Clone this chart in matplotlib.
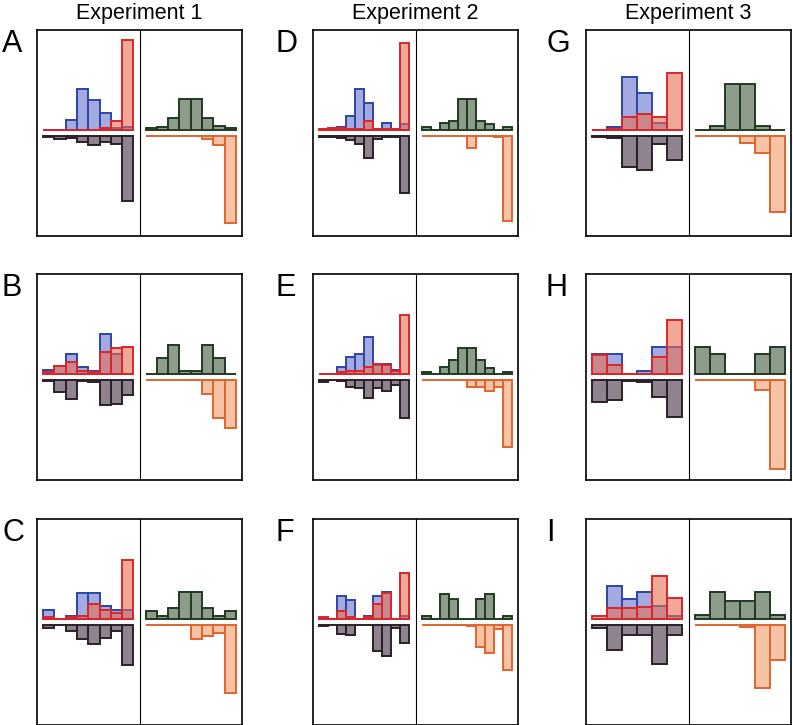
import numpy as np
import matplotlib
matplotlib.use("Agg")
import matplotlib.pyplot as plt
from matplotlib.colors import to_rgba

plt.rcParams['font.family'] = ['Liberation Sans', 'DejaVu Sans']

# panel letters, column by column
columns = ['Experiment 1', 'Experiment 2', 'Experiment 3']
letters = [['A', 'B', 'C'], ['D', 'E', 'F'], ['G', 'H', 'I']]

# left half, upward (blue and red overlap)
blue = {
    'A': [0, 0, 0.10, 0.41, 0.30, 0.17, 0.02, 0.03],
    'B': [0.04, 0.08, 0.20, 0.07, 0.03, 0.40, 0.20, 0.0],
    'C': [0.09, 0, 0.03, 0.26, 0.26, 0.13, 0.09, 0.09],
    'D': [0, 0.01, 0.03, 0.14, 0.41, 0.27, 0.01, 0.07, 0.01, 0.06],
    'E': [0, 0, 0.07, 0.17, 0.20, 0.37, 0.09, 0.10, 0.04, 0.0],
    'F': [0, 0, 0.23, 0.19, 0, 0.03, 0.23, 0.27, 0, 0.03],
    'G': [0, 0.03, 0.53, 0.37, 0.07, 0],
    'H': [0.20, 0.20, 0, 0.03, 0.27, 0.27],
    'I': [0.005, 0.33, 0.20, 0.27, 0.13, 0.03],
}
red = {
    'A': [0, 0, 0, 0, 0, 0.02, 0.09, 0.90],
    'B': [0.02, 0.08, 0.12, 0.03, 0.02, 0.22, 0.26, 0.27],
    'C': [0.02, 0.005, 0.02, 0.03, 0.15, 0.09, 0.06, 0.59],
    'D': [0.01, 0.02, 0.02, 0.01, 0.01, 0.09, 0.01, 0.01, 0.01, 0.87],
    'E': [0, 0, 0.02, 0.03, 0.03, 0.07, 0.10, 0.09, 0.03, 0.59],
    'F': [0.02, 0, 0.08, 0.02, 0, 0.02, 0.15, 0.26, 0, 0.46],
    'G': [0, 0.01, 0.13, 0.16, 0.13, 0.57],
    'H': [0.19, 0.09, 0, 0.005, 0.17, 0.54],
    'I': [0.03, 0.11, 0.11, 0.12, 0.43, 0.21],
}
# left half, downward
gray = {
    'A': [0.01, 0.03, 0.02, 0.06, 0.09, 0.06, 0.08, 0.66],
    'B': [0.01, 0.12, 0.19, 0.01, 0.02, 0.25, 0.24, 0.15],
    'C': [0.03, 0, 0.06, 0.14, 0.19, 0.13, 0.06, 0.40],
    'D': [0.01, 0.01, 0.02, 0.04, 0.08, 0.22, 0.03, 0.01, 0.01, 0.58],
    'E': [0.02, 0.005, 0.01, 0.07, 0.08, 0.18, 0.08, 0.11, 0.05, 0.38],
    'F': [0.01, 0, 0.09, 0.10, 0, 0.005, 0.26, 0.31, 0.03, 0.18],
    'G': [0.01, 0.02, 0.32, 0.35, 0.08, 0.24],
    'H': [0.22, 0.20, 0.01, 0.02, 0.17, 0.37],
    'I': [0.03, 0.25, 0.10, 0.10, 0.39, 0.10],
}
# right half, upward
green = {
    'A': [0.02, 0.03, 0.12, 0.31, 0.31, 0.12, 0.04, 0.02],
    'B': [0.005, 0.16, 0.29, 0.03, 0.03, 0.29, 0.16, 0.005],
    'C': [0.08, 0.03, 0.11, 0.27, 0.27, 0.11, 0.03, 0.08],
    'D': [0.03, 0.005, 0.07, 0.09, 0.31, 0.31, 0.09, 0.06, 0.005, 0.03],
    'E': [0.02, 0.005, 0.07, 0.14, 0.26, 0.26, 0.14, 0.06, 0.005, 0.02],
    'F': [0.03, 0, 0.25, 0.20, 0, 0, 0.20, 0.25, 0, 0.03],
    'G': [0.005, 0.04, 0.46, 0.46, 0.04, 0.005],
    'H': [0.27, 0.20, 0.005, 0.005, 0.20, 0.27],
    'I': [0.04, 0.27, 0.18, 0.18, 0.27, 0.04],
}
# right half, downward
orange = {
    'A': [0, 0, 0, 0, 0, 0.03, 0.09, 0.88],
    'B': [0, 0, 0, 0, 0, 0.14, 0.38, 0.48],
    'C': [0, 0, 0, 0, 0.14, 0.11, 0.08, 0.68],
    'D': [0, 0, 0, 0, 0, 0.12, 0, 0, 0.01, 0.86],
    'E': [0, 0, 0, 0, 0.005, 0.07, 0.07, 0.11, 0.07, 0.67],
    'F': [0, 0, 0, 0, 0, 0.01, 0.22, 0.28, 0.04, 0.45],
    'G': [0, 0, 0, 0.07, 0.17, 0.77],
    'H': [0, 0, 0, 0, 0.10, 0.89],
    'I': [0, 0, 0, 0.02, 0.63, 0.35],
}

W, H = 793, 725
col_left = [37, 313, 586]
row_top = [30, 274, 519]
box_w, box_h = 205, 206
gap = 0.055
lw = 1.4

fig = plt.figure(figsize=(W / 100, H / 100), dpi=100)

for c in range(3):
    fig.text((col_left[c] + box_w / 2) / W, 1 - 13 / H, columns[c],
             ha='center', va='center', fontsize=15.5)
    for r in range(3):
        key = letters[c][r]
        ax = fig.add_axes([col_left[c] / W, 1 - (row_top[r] + box_h) / H,
                           box_w / W, box_h / H])
        n = len(blue[key])
        edges = np.linspace(0.06, 0.94, n + 1)
        x = edges[:-1]
        bw = edges[1] - edges[0]

        ax.bar(x, blue[key], bw, align='edge', facecolor='#a3aae0',
               edgecolor='#2d45a5', lw=lw)
        ax.bar(x, red[key], bw, align='edge', facecolor=to_rgba('#e66e53', 0.6),
               edgecolor='#d9262b', lw=lw)
        ax.bar(x, -np.array(gray[key]), bw, bottom=-gap, align='edge',
               facecolor='#908390', edgecolor='#2b2029', lw=lw)
        ax.bar(1 + x, green[key], bw, align='edge', facecolor='#8e9d8b',
               edgecolor='#1f3b21', lw=lw)
        ax.bar(1 + x, -np.array(orange[key]), bw, bottom=-gap, align='edge',
               facecolor='#f6c3a5', edgecolor='#e0642e', lw=lw)

        ax.axvline(1, color='black', lw=0.8)
        ax.set_xlim(0, 2)
        ax.set_ylim(-1.06, 1.0)
        ax.set_xticks([])
        ax.set_yticks([])
        for s in ax.spines.values():
            s.set_linewidth(1.2)

        lx = [2, 276, 546][c]
        fig.text(lx / W, 1 - (row_top[r] - 1) / H, key, ha='left', va='top',
                 fontsize=22)

fig.savefig('out.png', dpi=100)
